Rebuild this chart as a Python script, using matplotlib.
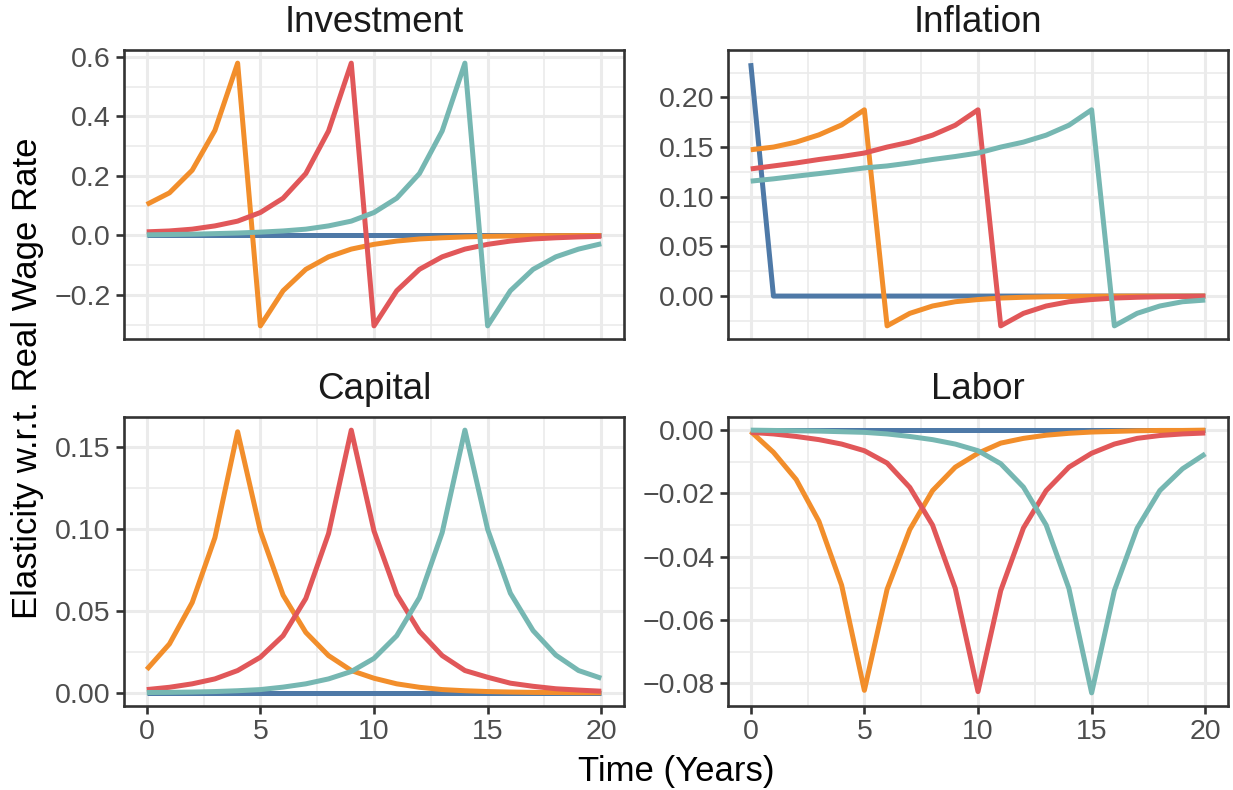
import matplotlib
matplotlib.use('Agg')
import matplotlib.pyplot as plt
from matplotlib.ticker import MultipleLocator, FuncFormatter

plt.rcParams['font.family'] = ['Liberation Sans', 'DejaVu Sans']

# ---------------- data ----------------
years = list(range(21))
panel_names = ['Investment', 'Inflation', 'Capital', 'Labor']
series_colors = ['#4E79A7', '#F28E2B', '#E15759', '#76B7B2']

inv_blue = [0.0] * 21
inv_orange = [0.104, 0.143, 0.219, 0.353, 0.579, -0.304, -0.186, -0.114, -0.072, -0.046,
              -0.030, -0.019, -0.012, -0.008, -0.005, -0.003, -0.002, -0.001, -0.001, -0.0005, -0.0003]
inv_red = [0.012, 0.015, 0.021, 0.032, 0.048, 0.077, 0.125, 0.208, 0.351, 0.579,
           -0.304, -0.186, -0.114, -0.072, -0.046, -0.030, -0.019, -0.012, -0.008, -0.005, -0.003]
inv_teal = [0.002, 0.003, 0.004, 0.006, 0.008, 0.011, 0.015, 0.021, 0.032, 0.048,
            0.077, 0.125, 0.208, 0.351, 0.579, -0.304, -0.186, -0.114, -0.072, -0.046, -0.028]

inf_blue = [0.2345] + [0.0] * 20
inf_orange = [0.1473, 0.150, 0.155, 0.1623, 0.1723, 0.1875, -0.030, -0.0174, -0.010, -0.0057,
              -0.0035, -0.002, -0.0012, -0.0007, -0.0004, -0.0002, -0.0001, 0.0, 0.0, 0.0, 0.0]
inf_red = [0.128, 0.131, 0.134, 0.1375, 0.1405, 0.144, 0.150, 0.155, 0.162, 0.172,
           0.1875, -0.030, -0.0174, -0.010, -0.0057, -0.0035, -0.002, -0.0012, -0.0007, -0.0004, -0.0002]
inf_teal = [0.1157, 0.118, 0.1207, 0.1233, 0.126, 0.129, 0.131, 0.134, 0.1375, 0.1405,
            0.144, 0.150, 0.155, 0.162, 0.172, 0.1875, -0.030, -0.0174, -0.010, -0.0057, -0.004]

cap_blue = [0.0] * 21
cap_orange = [0.0142, 0.0298, 0.055, 0.0945, 0.159, 0.0986, 0.0595, 0.0368, 0.0227, 0.0136,
              0.0089, 0.0055, 0.0034, 0.002, 0.0013, 0.0008, 0.0005, 0.0003, 0.0002, 0.0001, 0.0001]
cap_red = [0.002, 0.0034, 0.0055, 0.0085, 0.0136, 0.0217, 0.0348, 0.0575, 0.097, 0.160,
           0.0986, 0.060, 0.0374, 0.0227, 0.0136, 0.0095, 0.0059, 0.004, 0.0025, 0.0017, 0.001]
cap_teal = [0.0002, 0.0003, 0.0005, 0.0008, 0.0013, 0.002, 0.0035, 0.0055, 0.0085, 0.013,
            0.021, 0.0348, 0.058, 0.0976, 0.160, 0.0996, 0.0607, 0.0379, 0.023, 0.0136, 0.0089]

lab_blue = [0.0] * 21
lab_orange = [-0.0004, -0.007, -0.0156, -0.0288, -0.049, -0.0822, -0.0503, -0.0314, -0.0191, -0.0117,
              -0.0073, -0.0041, -0.0026, -0.0016, -0.001, -0.0006, -0.0004, -0.0002, -0.0001, -0.0001, 0.0]
lab_red = [-0.0007, -0.0012, -0.002, -0.003, -0.0044, -0.0065, -0.0104, -0.0181, -0.030, -0.050,
           -0.0826, -0.0507, -0.0309, -0.0191, -0.0117, -0.0073, -0.0044, -0.0026, -0.0017, -0.0012, -0.0009]
lab_teal = [0.0, -0.0001, -0.0002, -0.0003, -0.0005, -0.0007, -0.0012, -0.002, -0.003, -0.0044,
            -0.0065, -0.0106, -0.018, -0.030, -0.050, -0.083, -0.0507, -0.031, -0.0191, -0.0122, -0.0075]

x_ticks = [0, 5, 10, 15, 20]
panel_series = [
    [inv_blue, inv_orange, inv_red, inv_teal],
    [inf_blue, inf_orange, inf_red, inf_teal],
    [cap_blue, cap_orange, cap_red, cap_teal],
    [lab_blue, lab_orange, lab_red, lab_teal],
]
y_major = [0.2, 0.05, 0.05, 0.02]
y_decimals = [1, 2, 2, 2]

# ---------------- layout ----------------
W, H = 1233, 790
fig = plt.figure(figsize=(W / 100, H / 100), dpi=100)

boxes = [  # left, top, right, bottom in pixels
    (124, 50, 624, 339),
    (728, 50, 1228, 339),
    (124, 417, 624, 706),
    (728, 417, 1228, 706),
]

border_col = '#333333'
grid_col = '#EBEBEB'
tick_lab_col = '#4D4D4D'


def make_fmt(dec):
    def f(v, pos):
        if abs(v) < 1e-12:
            v = 0.0
        return f"{v:.{dec}f}".replace('-', '\u2212')
    return FuncFormatter(f)


for i, (l, t, r, b) in enumerate(boxes):
    ax = fig.add_axes([l / W, 1 - b / H, (r - l) / W, (b - t) / H])
    for s, c in zip(panel_series[i], series_colors):
        ax.plot(years, s, color=c, lw=3.6, solid_capstyle='butt', solid_joinstyle='round', zorder=3)
    ax.set_xlim(-1, 21)
    ax.margins(y=0.05)
    ax.set_xticks(x_ticks)
    ax.xaxis.set_minor_locator(MultipleLocator(2.5))
    ax.yaxis.set_major_locator(MultipleLocator(y_major[i]))
    ax.yaxis.set_minor_locator(MultipleLocator(y_major[i] / 2))
    ax.yaxis.set_major_formatter(make_fmt(y_decimals[i]))
    ax.grid(which='major', color=grid_col, lw=2.2, zorder=0)
    ax.grid(which='minor', color=grid_col, lw=1.2, zorder=0)
    ax.set_axisbelow(True)
    for sp in ax.spines.values():
        sp.set_color(border_col)
        sp.set_linewidth(1.9)
        sp.set_zorder(5)
    ax.tick_params(which='minor', length=0)
    ax.tick_params(which='major', length=5.5, width=1.9, color=border_col,
                   labelsize=20.5, labelcolor=tick_lab_col, pad=4.0)
    if i < 2:
        ax.tick_params(axis='x', which='both', bottom=False, labelbottom=False)
    # panel title
    fig.text(((l + r) / 2) / W, 1 - (t - 18) / H, panel_names[i], fontsize=26.5,
             color='#1A1A1A', ha='center', va='baseline')

fig.text(676 / W, 1 - 781.5 / H, 'Time (Years)', fontsize=25, color='black',
         ha='center', va='baseline')
fig.text(37 / W, 1 - 378 / H, 'Elasticity w.r.t. Real Wage Rate', fontsize=25, color='black',
         rotation=90, rotation_mode='anchor', ha='center', va='baseline')

fig.savefig('out.png', dpi=100)
